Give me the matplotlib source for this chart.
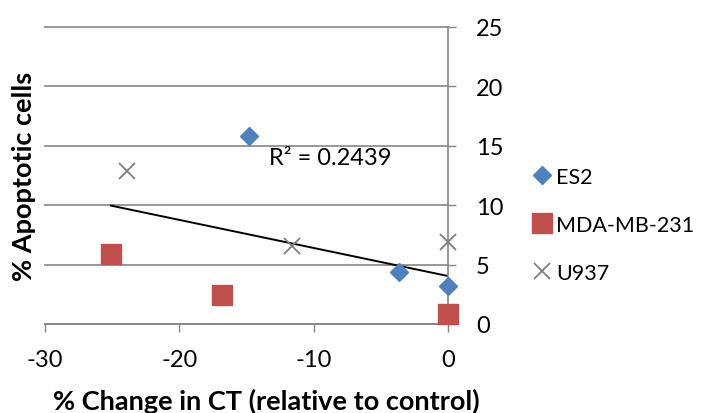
import numpy as np
import matplotlib
matplotlib.use("Agg")
import matplotlib.pyplot as plt

plt.rcParams['font.family'] = ['Lato', 'DejaVu Sans']
plt.rcParams['axes.unicode_minus'] = False

# data
es2_x = [-14.8, -3.7, 0.0]
es2_y = [15.8, 4.4, 3.2]
mda_x = [-25.1, -16.8, 0.0]
mda_y = [5.9, 2.4, 0.8]
u937_x = [-23.9, -11.6, 0.0]
u937_y = [12.9, 6.6, 6.9]
r2_label = "R² = 0.2439"

grey = '#868686'

fig = plt.figure(figsize=(7.01, 4.14), dpi=100)
ax = fig.add_axes([0.0642, 0.215, 0.5753, 0.7181])

ax.plot(es2_x, es2_y, linestyle='none', marker='D', markersize=9.5,
        color='#4F81BD', label='ES2', zorder=3, clip_on=False)
ax.plot(mda_x, mda_y, linestyle='none', marker='s', markersize=14.5,
        color='#C0504D', label='MDA-MB-231', zorder=3, clip_on=False)
ax.plot(u937_x, u937_y, linestyle='none', marker='x', markersize=12,
        markeredgewidth=1.3, color='#7F7F7F', label='U937', zorder=3,
        clip_on=False)

# linear trendline over all points
all_x = np.array(es2_x + mda_x + u937_x)
all_y = np.array(es2_y + mda_y + u937_y)
slope, icpt = np.polyfit(all_x, all_y, 1)
tx = np.array([all_x.min(), all_x.max()])
ax.plot(tx, slope * tx + icpt, color='black', linewidth=1.4, zorder=2)
ax.text(-13.3, 14.0, r2_label, fontsize=17, va='center', ha='left')

ax.set_xlim(-30, 0)
ax.set_ylim(0, 25)
ax.set_xticks([-30, -20, -10, 0])
ax.set_yticks([0, 5, 10, 15, 20, 25])
ax.yaxis.tick_right()
ax.tick_params(axis='both', direction='out', length=6, width=1, color=grey,
               labelsize=17)
ax.tick_params(axis='x', pad=12)
ax.tick_params(axis='y', pad=14)

for s in ['left', 'top']:
    ax.spines[s].set_visible(False)
for s in ['right', 'bottom']:
    ax.spines[s].set_color(grey)
    ax.spines[s].set_linewidth(1.2)

ax.yaxis.grid(True, color=grey, linewidth=1.2)
for gl in ax.get_ygridlines():
    gl.set_clip_on(False)
ax.set_axisbelow(True)

fig.text(0.034, 0.575, '% Apoptotic cells', rotation=90, fontsize=19.5,
         fontweight='bold', ha='center', va='center')
fig.text(0.380, 0.030, '% Change in CT (relative to control)', fontsize=19.5,
         fontweight='bold', ha='center', va='center')

fig.legend(loc='center left', bbox_to_anchor=(0.749, 0.455), frameon=False,
           fontsize=15.5, handlelength=0.8, handletextpad=0.25,
           labelspacing=1.3, borderaxespad=0)

fig.savefig('out.png', dpi=100)
